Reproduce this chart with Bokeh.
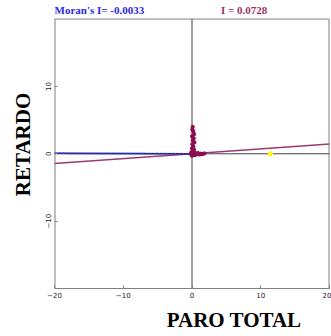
from bokeh.plotting import figure
from bokeh.models import Label, Title, FixedTicker, Range1d
from bokeh.embed import file_html
from bokeh.resources import INLINE

# data
pts_x = [0.1, 0.05, 0.2, 0.3, 0.0, 0.25, 0.1, 0.35, 0.05, 0.2, 0.0, 0.3, 0.1, -0.1, 0.2, 0.5,
         0.8, 1.1, 1.5, 0.4, 0.0, -0.2, 0.6, 0.15, 1.8, 0.9, 1.3]
pts_y = [4.0, 3.6, 3.3, 2.9, 2.6, 2.3, 2.0, 1.7, 1.4, 1.1, 0.8, 0.6, 0.4, 0.2, 0.1, 0.1,
         0.0, -0.1, -0.05, -0.2, -0.3, 0.0, -0.1, -0.1, 0.05, 0.1, 0.0]
sel_x = [11.4]
sel_y = [0.0]
moran_all = 0.0728
moran_sel = -0.0033
x_ticks = [-20, -10, 0, 10, 20]
y_ticks = [-10, 0, 10]
x_lim = (-20, 20)
y_lim = (-20, 20)

# frame is 276 px tall for the 40 y-units; 19 extra px on top hold the header texts
px_per_unit = 276 / (y_lim[1] - y_lim[0])
y_top = y_lim[1] + 19 / px_per_unit

p = figure(width=331, height=336, x_range=Range1d(*x_lim), y_range=Range1d(y_lim[0], y_top),
           output_backend="svg", toolbar_location=None,
           min_border_left=54, min_border_top=0, min_border_right=2, min_border_bottom=41)
p.grid.visible = False
p.outline_line_color = None
p.background_fill_color = "white"
p.border_fill_color = "white"

for ax in (p.xaxis[0], p.yaxis[0]):
    ax.axis_line_color = "#808080"
    ax.major_tick_line_color = "#808080"
    ax.major_tick_in = 3
    ax.major_tick_out = 0
    ax.minor_tick_line_color = None
    ax.major_label_text_font = "DejaVu Sans"
    ax.major_label_text_font_size = "7px"
    ax.major_label_text_color = "#222222"
    ax.major_label_standoff = 3
p.yaxis.axis_line_color = None
p.xaxis.ticker = FixedTicker(ticks=x_ticks)
p.yaxis.ticker = FixedTicker(ticks=y_ticks)
p.yaxis.major_label_orientation = "vertical"
p.yaxis.axis_label = "RETARDO"
p.yaxis.axis_label_text_font = "Liberation Serif"
p.yaxis.axis_label_text_font_style = "bold"
p.yaxis.axis_label_text_font_size = "21px"
p.yaxis.axis_label_text_color = "black"
p.yaxis.axis_label_standoff = 8

p.add_layout(Title(text="PARO TOTAL", align="right", offset=28,
                   text_font="Liberation Serif", text_font_style="bold",
                   text_font_size="21px", text_color="black"), "below")

# plot box (left, top, right) and centre cross
p.segment(x0=[x_lim[0], x_lim[0], x_lim[1]], y0=[y_lim[0], y_lim[1], y_lim[0]],
          x1=[x_lim[0], x_lim[1], x_lim[1]], y1=[y_lim[1], y_lim[1], y_lim[1]],
          line_color="#808080", line_width=[2, 1, 2])
p.segment(x0=[x_lim[0], 0], y0=[0, y_lim[0]], x1=[x_lim[1], 0], y1=[0, y_lim[1]],
          line_color="#404040", line_width=1)

# regression lines
p.line([x_lim[0], x_lim[1]], [moran_all * x_lim[0], moran_all * x_lim[1]],
       line_color="#9a3b6e", line_width=1.5)
p.line([x_lim[0], 0], [moran_sel * x_lim[0], 0], line_color="#1a1a60", line_width=1.5)
p.line([x_lim[0], 0], [moran_sel * x_lim[0], 0], line_color="#3040ff", line_width=1.5,
       line_dash="2 2")

p.scatter(pts_x, pts_y, marker="asterisk", size=4, line_color="#8c0f4f", line_width=1.5)
p.scatter(sel_x, sel_y, marker="asterisk", size=5, line_color="#ffff00", line_width=2)

p.add_layout(Label(x=x_lim[0], y=y_lim[1], y_offset=3, text="Moran's I= %.4f" % moran_sel,
                   text_font="Liberation Serif", text_font_style="bold",
                   text_font_size="11px", text_color="#2a2ae0", text_baseline="bottom"))
p.add_layout(Label(x=4.2, y=y_lim[1], y_offset=3, text="I = %.4f" % moran_all,
                   text_font="Liberation Serif", text_font_style="bold",
                   text_font_size="11px", text_color="#993366", text_baseline="bottom"))

open("out.html", "w").write(file_html(p, INLINE))
